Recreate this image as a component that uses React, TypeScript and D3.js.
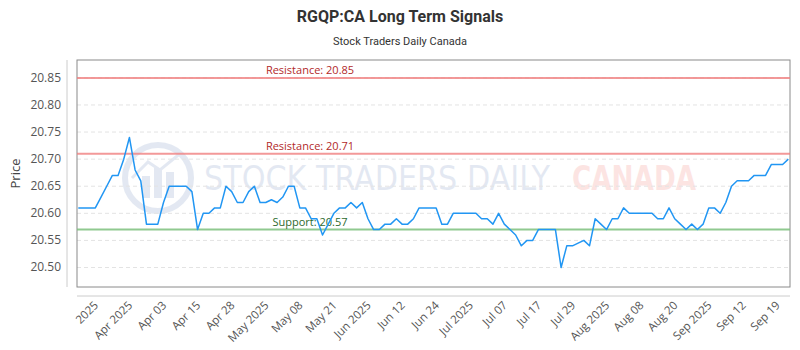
import React from 'react';
import * as d3 from 'd3';

// closing prices, one per trading day
const prices: number[] = [
  20.61, 20.61, 20.61, 20.61, 20.63, 20.65, 20.67, 20.67, 20.70, 20.74,
  20.68, 20.66, 20.58, 20.58, 20.58, 20.62, 20.65, 20.65, 20.65, 20.65,
  20.64, 20.57, 20.60, 20.60, 20.61, 20.61, 20.65, 20.64, 20.62, 20.62,
  20.64, 20.65, 20.62, 20.62, 20.625, 20.62, 20.63, 20.65, 20.65, 20.61,
  20.61, 20.59, 20.59, 20.56, 20.58, 20.60, 20.61, 20.61, 20.62, 20.61,
  20.62, 20.59, 20.57, 20.57, 20.58, 20.58, 20.59, 20.58, 20.58, 20.59,
  20.61, 20.61, 20.61, 20.61, 20.58, 20.58, 20.60, 20.60, 20.60, 20.60,
  20.60, 20.59, 20.59, 20.58, 20.60, 20.58, 20.57, 20.56, 20.54, 20.55,
  20.55, 20.57, 20.57, 20.57, 20.57, 20.50, 20.54, 20.54, 20.545, 20.55,
  20.54, 20.59, 20.58, 20.57, 20.59, 20.59, 20.61, 20.60, 20.60, 20.60,
  20.60, 20.60, 20.59, 20.59, 20.61, 20.59, 20.58, 20.57, 20.58, 20.57,
  20.58, 20.61, 20.61, 20.60, 20.62, 20.65, 20.66, 20.66, 20.66, 20.67,
  20.67, 20.67, 20.69, 20.69, 20.69, 20.70,
];

const xLabels: string[] = [
  '2025', 'Apr 2025', 'Apr 03', 'Apr 15', 'Apr 28', 'May 2025', 'May 08',
  'May 21', 'Jun 2025', 'Jun 12', 'Jun 24', 'Jul 2025', 'Jul 07', 'Jul 17',
  'Jul 29', 'Aug 2025', 'Aug 08', 'Aug 20', 'Sep 2025', 'Sep 12', 'Sep 19',
];
// index of the price each label sits under
const xLabelIndex: number[] = xLabels.map((_, k) => 4 + k * 6);

const yTicks: number[] = [20.5, 20.55, 20.6, 20.65, 20.7, 20.75, 20.8, 20.85];

const resistance: number[] = [20.85, 20.71];
const support: number[] = [20.57];

const W = 800;
const H = 350;
const plot = { left: 77, right: 790, top: 60, bottom: 287 };
const FONT = "'Open Sans', sans-serif";

const App: React.FC = () => {
  const x = d3.scaleLinear()
    .domain([0, prices.length - 1])
    .range([plot.left + 1.3, plot.right - 1.7]);
  const y = d3.scaleLinear()
    .domain([20.464, 20.883])
    .range([plot.bottom, plot.top]);

  const line = d3.line<number>()
    .x((d, i) => x(i))
    .y(d => y(d));

  const levelLabelX = 310;

  return (
    <svg width={W} height={H} viewBox={`0 0 ${W} ${H}`}
      style={{ position: 'absolute', left: 0, top: 0, background: '#fff' }}>
      {/* titles */}
      <text x={400} y={22} textAnchor="middle" fontFamily="Roboto, sans-serif"
        fontWeight={700} fontSize={16} fill="#333">RGQP:CA Long Term Signals</text>
      <text x={400} y={45} textAnchor="middle" fontFamily="Roboto, sans-serif"
        fontSize={11} fill="#333">Stock Traders Daily Canada</text>

      {/* watermark */}
      <g opacity={0.12}>
        <circle cx={158} cy={178} r={33} fill="none" stroke="#1f4e9a" strokeWidth={6} />
        <rect x={142} y={176} width={8} height={22} fill="#1f4e9a" />
        <rect x={154} y={168} width={8} height={30} fill="#1f4e9a" />
        <rect x={166} y={172} width={8} height={26} fill="#1f4e9a" />
        <path d="M132,178 L148,162 L160,170 L182,152" fill="none" stroke="#1f4e9a" strokeWidth={3} />
        <text x={204} y={190} fontFamily="'DejaVu Sans Condensed', 'DejaVu Sans', sans-serif"
          fontSize={34} fill="#1f4e9a" textLength={346} lengthAdjust="spacingAndGlyphs">STOCK TRADERS DAILY</text>
      </g>
      <text x={572} y={190} opacity={0.12} fontFamily="'DejaVu Sans', sans-serif"
        fontWeight={700} fontSize={34} fill="#e8291c" textLength={124}
        lengthAdjust="spacingAndGlyphs">CANADA</text>

      {/* grid */}
      {yTicks.map(t => (
        <line key={t} x1={plot.left} x2={plot.right} y1={y(t)} y2={y(t)}
          stroke="#e3e3e3" strokeWidth={1} strokeDasharray="4 3" />
      ))}

      {/* plot frame */}
      <rect x={plot.left} y={plot.top} width={plot.right - plot.left}
        height={plot.bottom - plot.top} fill="none" stroke="#8a8a8a" strokeWidth={1} />

      {/* y axis */}
      <line x1={67} x2={67} y1={plot.top} y2={plot.bottom} stroke="#ccc" />
      {yTicks.map(t => (
        <text key={t} x={61} y={y(t) + 4} textAnchor="end" fontFamily={FONT}
          fontSize={12} fill="#555">{t.toFixed(2)}</text>
      ))}
      <text transform={`translate(20,${(plot.top + plot.bottom) / 2}) rotate(-90)`}
        textAnchor="middle" fontFamily={FONT} fontSize={13} fill="#444">Price</text>

      {/* x axis */}
      <line x1={plot.left} x2={plot.right} y1={296} y2={296} stroke="#ccc" />
      {xLabels.map((lab, k) => (
        <text key={lab} transform={`translate(${x(xLabelIndex[k]) - 2},${306}) rotate(-45)`}
          textAnchor="end" fontFamily={FONT} fontSize={11.5} fill="#555">{lab}</text>
      ))}

      {/* support / resistance */}
      {resistance.map(r => (
        <g key={r}>
          <line x1={plot.left} x2={plot.right} y1={y(r)} y2={y(r)} stroke="#f08080"
            strokeOpacity={0.8} strokeWidth={2} />
          <text x={levelLabelX} y={y(r) - 4} textAnchor="middle" fontFamily={FONT}
            fontSize={11} fill="#b22a2a">{`Resistance: ${r.toFixed(2)}`}</text>
        </g>
      ))}
      {support.map(s => (
        <g key={s}>
          <line x1={plot.left} x2={plot.right} y1={y(s)} y2={y(s)} stroke="#7cbf7c"
            strokeOpacity={0.85} strokeWidth={2} />
          <text x={levelLabelX} y={y(s) - 4} textAnchor="middle" fontFamily={FONT}
            fontSize={11} fill="#2d6a2d">{`Support: ${s.toFixed(2)}`}</text>
        </g>
      ))}

      {/* price line */}
      <path d={line(prices) ?? ''} fill="none" stroke="#2196f3" strokeWidth={1.5}
        strokeLinejoin="round" />
    </svg>
  );
};

export default App;
